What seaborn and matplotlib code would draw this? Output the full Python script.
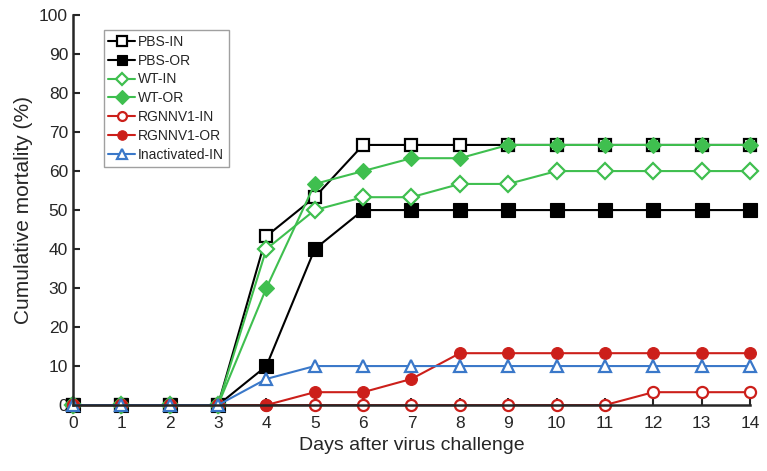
import numpy as np
import pandas as pd
import matplotlib
matplotlib.use("Agg")
import matplotlib.pyplot as plt
import seaborn as sns

# ----------- data -----------
days = list(range(15))
pbs_in = [0, 0, 0, 0, 43.3, 53.3, 66.7, 66.7, 66.7, 66.7, 66.7, 66.7, 66.7, 66.7, 66.7]
pbs_or = [0, 0, 0, 0, 10, 40, 50, 50, 50, 50, 50, 50, 50, 50, 50]
wt_in = [0, 0, 0, 0, 40, 50, 53.3, 53.3, 56.7, 56.7, 60, 60, 60, 60, 60]
wt_or = [0, 0, 0, 0, 30, 56.7, 60, 63.3, 63.3, 66.7, 66.7, 66.7, 66.7, 66.7, 66.7]
rg_in = [0, 0, 0, 0, 0, 0, 0, 0, 0, 0, 0, 0, 3.3, 3.3, 3.3]
rg_or = [0, 0, 0, 0, 0, 3.3, 3.3, 6.7, 13.3, 13.3, 13.3, 13.3, 13.3, 13.3, 13.3]
inact_in = [0, 0, 0, 0, 6.7, 10, 10, 10, 10, 10, 10, 10, 10, 10, 10]

green = "#3fbf4f"
red = "#cc1f1a"
blue = "#3a78c9"

# name, values, color, marker, filled, size
series = [
    ("PBS-IN", pbs_in, "black", "s", False, 9),
    ("PBS-OR", pbs_or, "black", "s", True, 9.5),
    ("WT-IN", wt_in, green, "D", False, 8),
    ("WT-OR", wt_or, green, "D", True, 8.5),
    ("RGNNV1-IN", rg_in, red, "o", False, 8),
    ("RGNNV1-OR", rg_or, red, "o", True, 8.5),
    ("Inactivated-IN", inact_in, blue, "^", False, 8.5),
]

sns.set_style("ticks")
plt.rcParams["font.family"] = ["Liberation Sans", "DejaVu Sans"]

fig, ax = plt.subplots(figsize=(7.67, 4.71), dpi=100)
fig.subplots_adjust(left=0.095, right=0.978, top=0.968, bottom=0.14)

for name, vals, col, mk, filled, ms in series:
    sns.lineplot(x=days, y=vals, ax=ax, color=col, marker=mk, markersize=ms,
                 markerfacecolor=col if filled else "white",
                 markeredgecolor=col, markeredgewidth=1.6 if not filled else 0.8,
                 linewidth=1.5, label=name, clip_on=False)

ax.set_xlim(0, 14)
ax.set_ylim(0, 100)
ax.set_xticks(days)
ax.set_yticks(range(0, 101, 10))
ax.tick_params(direction="in", length=5, width=1.5, labelsize=12.5)
ax.tick_params(axis="x", pad=8)
for s in ["top", "right"]:
    ax.spines[s].set_visible(False)
for s in ["left", "bottom"]:
    ax.spines[s].set_linewidth(1.8)
ax.set_xlabel("Days after virus challenge", fontsize=14)
ax.set_ylabel("Cumulative mortality (%)", fontsize=15)

leg = ax.legend(loc="upper left", bbox_to_anchor=(0.035, 0.98), fontsize=10,
                frameon=True, fancybox=False, edgecolor="#888888",
                handlelength=1.9, handletextpad=0.25, labelspacing=0.35,
                borderpad=0.35, markerscale=0.8)
leg.get_frame().set_linewidth(1.0)

plt.savefig("out.png", dpi=100)
